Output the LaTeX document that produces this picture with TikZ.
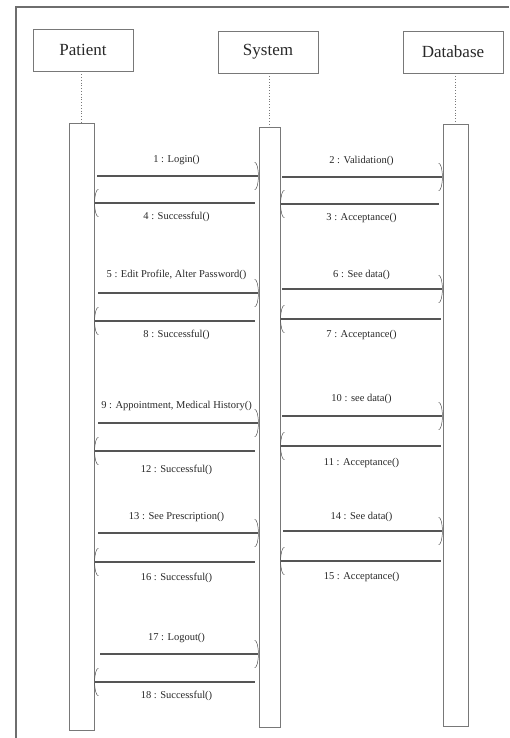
\documentclass[tikz,border=0pt]{standalone}
\usepackage{fontspec}
\setmainfont{Liberation Serif}
\usepackage{tikz}
\usetikzlibrary{arrows.meta,positioning}
\definecolor{seqline}{RGB}{85,85,85}
\definecolor{seqframe}{RGB}{110,110,110}
\definecolor{seqbox}{RGB}{120,120,120}
\definecolor{seqtext}{RGB}{40,40,40}

\begin{document}
\begin{tikzpicture}[x=1pt,y=-1pt,
  actor/.style={draw=seqbox,line width=0.8pt,minimum width=100pt,minimum height=42pt,inner sep=0pt,text=seqtext,font=\fontsize{17}{20}\selectfont},
  bar/.style={draw=seqbox,line width=0.7pt,fill=white,inner sep=0pt},
  lifeline/.style={seqbox,dotted,line width=0.8pt},
  msg/.style={seqline,line width=2.2pt,-{Arc Barb[length=4pt,width=28pt,line width=0.5pt]}},
  lbl/.style={font=\fontsize{10.5}{12}\selectfont,text=seqtext,inner sep=0pt}]
  \useasboundingbox (0,0) rectangle (509,738);
  \draw[seqframe,line width=1.3pt] (16,738) -- (16,7) -- (509,7);
  % lifelines heads
  \node[actor] (patient) at (83,50) {Patient};
  \node[actor] (system) at (268,52) {System};
  \node[actor] (database) at (453,52) {Database};
  % activation bars
  \node[bar,minimum width=25pt,minimum height=607pt] (pbar) at (81.5,426.5) {};
  \node[bar,minimum width=21pt,minimum height=600pt] (sbar) at (269.5,427) {};
  \node[bar,minimum width=25pt,minimum height=602pt] (dbar) at (455.5,425) {};
  \draw[lifeline] (pbar.north |- patient.south) -- (pbar.north);
  \draw[lifeline] (sbar.north |- system.south) -- (sbar.north);
  \draw[lifeline] (dbar.north |- database.south) -- (dbar.north);
  % login
  \draw[msg,shorten <=3pt] (pbar.east |- 0,176) -- node[lbl,above=10pt] {1 : Login()} (sbar.west |- 0,176);
  \draw[msg,shorten <=2pt] (sbar.east |- 0,177) -- node[lbl,above=10pt] {2 : Validation()} (dbar.west |- 0,177);
  \draw[msg,shorten <=4pt] (dbar.west |- 0,204) -- node[lbl,below=8pt] {3 : Acceptance()} (sbar.east |- 0,204);
  \draw[msg,shorten <=4pt] (sbar.west |- 0,203) -- node[lbl,below=8pt] {4 : Successful()} (pbar.east |- 0,203);
  % edit profile
  \draw[msg,shorten <=4pt] (pbar.east |- 0,293) -- node[lbl,above=12pt] {5 : Edit Profile, Alter Password()} (sbar.west |- 0,293);
  \draw[msg,shorten <=2pt] (sbar.east |- 0,289) -- node[lbl,above=8pt] {6 : See data()} (dbar.west |- 0,289);
  \draw[msg,shorten <=2pt] (dbar.west |- 0,319) -- node[lbl,below=10pt] {7 : Acceptance()} (sbar.east |- 0,319);
  \draw[msg,shorten <=4pt] (sbar.west |- 0,321) -- node[lbl,below=8pt] {8 : Successful()} (pbar.east |- 0,321);
  % appointment
  \draw[msg,shorten <=4pt] (pbar.east |- 0,423) -- node[lbl,above=11pt] {9 : Appointment, Medical History()} (sbar.west |- 0,423);
  \draw[msg,shorten <=2pt] (sbar.east |- 0,416) -- node[lbl,above=11pt] {10 : see data()} (dbar.west |- 0,416);
  \draw[msg,shorten <=2pt] (dbar.west |- 0,446) -- node[lbl,below=11pt] {11 : Acceptance()} (sbar.east |- 0,446);
  \draw[msg,shorten <=4pt] (sbar.west |- 0,451) -- node[lbl,below=13pt] {12 : Successful()} (pbar.east |- 0,451);
  % prescription
  \draw[msg,shorten <=4pt] (pbar.east |- 0,533) -- node[lbl,above=10pt] {13 : See Prescription()} (sbar.west |- 0,533);
  \draw[msg,shorten <=3pt] (sbar.east |- 0,531) -- node[lbl,above=8pt] {14 : See data()} (dbar.west |- 0,531);
  \draw[msg,shorten <=2pt] (dbar.west |- 0,561) -- node[lbl,below=10pt] {15 : Acceptance()} (sbar.east |- 0,561);
  \draw[msg,shorten <=4pt] (sbar.west |- 0,562) -- node[lbl,below=10pt] {16 : Successful()} (pbar.east |- 0,562);
  % logout
  \draw[msg,shorten <=6pt] (pbar.east |- 0,654) -- node[lbl,above=10pt] {17 : Logout()} (sbar.west |- 0,654);
  \draw[msg,shorten <=4pt] (sbar.west |- 0,682) -- node[lbl,below=8pt] {18 : Successful()} (pbar.east |- 0,682);
\end{tikzpicture}
\end{document}
